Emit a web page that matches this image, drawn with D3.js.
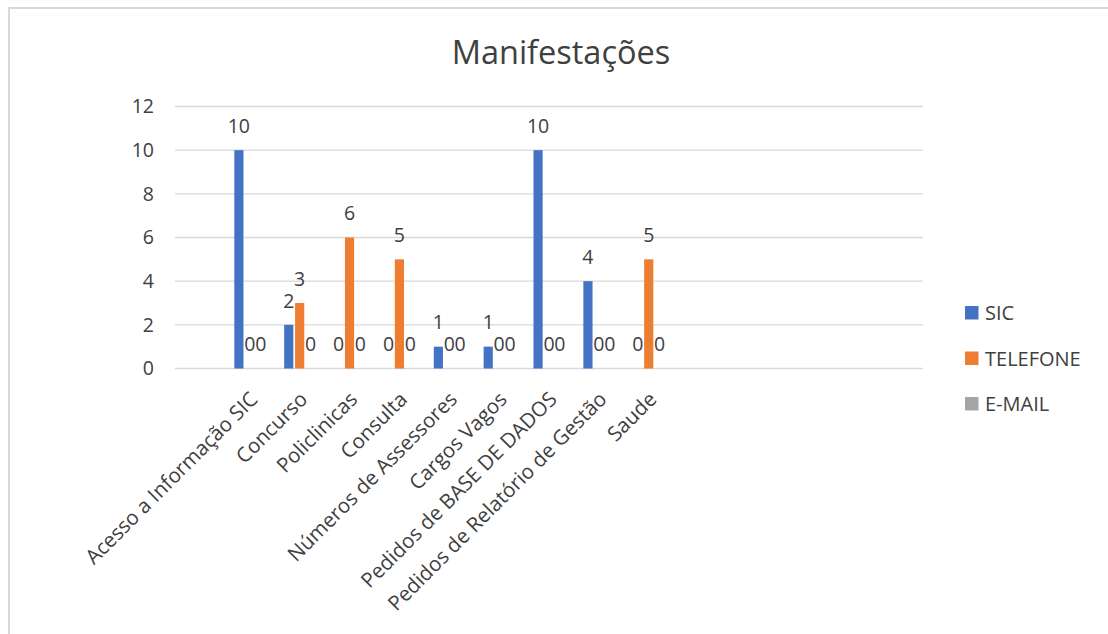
<!DOCTYPE html>
<html>
<head>
<meta charset="utf-8">
<script src="https://cdn.jsdelivr.net/npm/d3@7"></script>
<style>
  body { margin: 0; background: #fff; }
  svg { font-family: "Open Sans", "Noto Sans", sans-serif; }
</style>
</head>
<body>
<div id="chart"></div>
<script>
// Manifestações - clustered columns (empty categories keep the Excel spacing)
const categories = ["", "Acesso a Informação SIC", "Concurso", "Policlinicas", "Consulta",
    "Números de Assessores", "Cargos Vagos", "Pedidos de BASE DE DADOS",
    "Pedidos de Relatório de Gestão", "Saude", "", "", "", "", ""];
const seriesNames = ["SIC", "TELEFONE", "E-MAIL"];
const sic      = [null, 10, 2, 0, 0, 1, 1, 10, 4, 0];
const telefone = [null, 0, 3, 6, 5, 0, 0, 0, 0, 5];
const email    = [null, 0, 0, 0, 0, 0, 0, 0, 0, 0];
const yTicks = [0, 2, 4, 6, 8, 10, 12];
const colors = ["#4472C4", "#ED7D31", "#A5A5A5"];

const width = 1108, height = 634;
const margin = { left: 175, right: 185, top: 106.5, bottom: 265.5 };
const textColor = "#404040";

const svg = d3.select('#chart')
    .append('svg')
    .attr('width', width)
    .attr('height', height);

// chart frame
svg.append('path')
    .attr('d', `M9,${height + 2}V8H${width + 2}`)
    .attr('fill', 'none')
    .attr('stroke', '#d9d9d9')
    .attr('stroke-width', 2);

const x = d3.scaleBand()
    .domain(d3.range(categories.length))
    .range([margin.left, width - margin.right])
    .paddingInner(0)
    .paddingOuter(0);
const xInner = d3.scaleBand()
    .domain(d3.range(seriesNames.length))
    .range([0, 31])
    .paddingInner(0.16);
const y = d3.scaleLinear()
    .domain([0, 12])
    .range([height - margin.bottom, margin.top]);

// gridlines
svg.append('g')
    .selectAll('line')
    .data(yTicks)
    .join('line')
    .attr('x1', margin.left)
    .attr('x2', width - margin.right)
    .attr('y1', d => y(d))
    .attr('y2', d => y(d))
    .attr('stroke', '#d9d9d9')
    .attr('stroke-width', 1.3);

// y axis labels
svg.append('g')
    .selectAll('text')
    .data(yTicks)
    .join('text')
    .attr('x', 154)
    .attr('y', d => y(d))
    .attr('dy', '0.35em')
    .attr('text-anchor', 'end')
    .attr('fill', textColor)
    .attr('font-size', 19.5)
    .text(d => d);

// bars + labels
const allSeries = [sic, telefone, email];
const bars = [];
allSeries.forEach((vals, s) => {
    vals.forEach((v, i) => {
        if (v === null || v === undefined) return;
        bars.push({ s, i, v });
    });
});
const groupOffset = d => x(d.i) + x.bandwidth() / 2 - 15.5 + xInner(d.s);

svg.append('g')
    .selectAll('rect')
    .data(bars.filter(d => d.v > 0))
    .join('rect')
    .attr('x', d => groupOffset(d))
    .attr('y', d => y(d.v))
    .attr('width', xInner.bandwidth())
    .attr('height', d => y(0) - y(d.v))
    .attr('fill', d => colors[d.s]);

svg.append('g')
    .selectAll('text')
    .data(bars)
    .join('text')
    .attr('x', d => groupOffset(d) + xInner.bandwidth() / 2)
    .attr('y', d => y(d.v) - 24)
    .attr('dy', '0.35em')
    .attr('text-anchor', 'middle')
    .attr('fill', textColor)
    .attr('font-size', 19.5)
    .text(d => d.v);

// category labels
svg.append('g')
    .selectAll('text')
    .data(categories.map((c, i) => ({ c, i })).filter(d => d.c !== ''))
    .join('text')
    .attr('transform', d => `translate(${x(d.i) + x.bandwidth() / 2 + 4},${y(0) + 27}) rotate(-45)`)
    .attr('text-anchor', 'end')
    .attr('dy', '0.35em')
    .attr('fill', textColor)
    .attr('font-size', 20.5)
    .text(d => d.c);

// title
svg.append('text')
    .attr('x', 561)
    .attr('y', 53)
    .attr('dy', '0.35em')
    .attr('text-anchor', 'middle')
    .attr('fill', textColor)
    .attr('font-size', 32.5)
    .text('Manifestações');

// legend
const legend = svg.append('g')
    .selectAll('g')
    .data(seriesNames)
    .join('g')
    .attr('transform', (d, i) => `translate(965,${306 + i * 45.5})`);
legend.append('rect')
    .attr('width', 13.5)
    .attr('height', 13.5)
    .attr('fill', (d, i) => colors[i]);
legend.append('text')
    .attr('x', 20)
    .attr('y', 7)
    .attr('dy', '0.35em')
    .attr('fill', textColor)
    .attr('font-size', 20)
    .text(d => d);
</script>
</body>
</html>
